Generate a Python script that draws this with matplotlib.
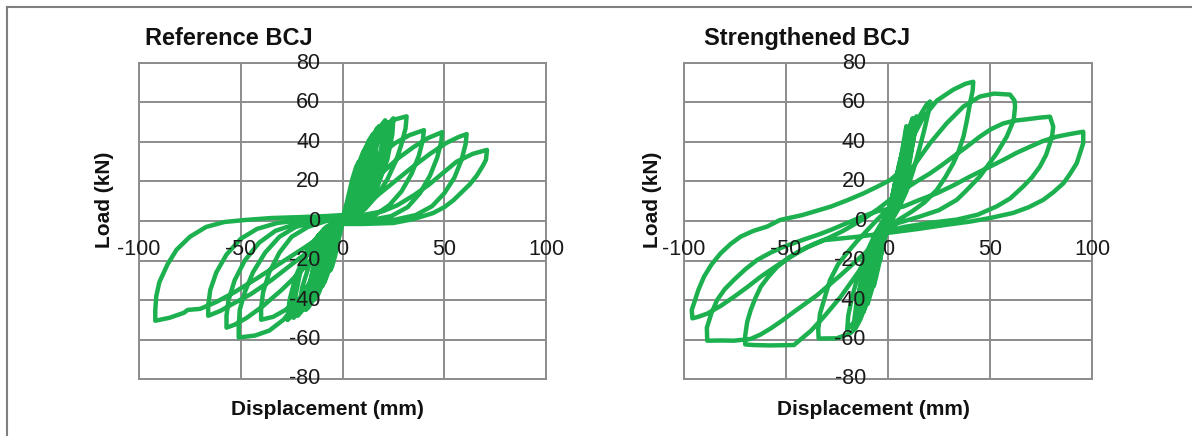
import numpy as np
import matplotlib.pyplot as plt
from matplotlib.lines import Line2D

plt.rcParams['font.family'] = ['Liberation Sans', 'DejaVu Sans']

x_ticks = [-100, -50, 0, 50, 100]
y_ticks = [-80, -60, -40, -20, 0, 20, 40, 60, 80]
titles = ['Reference BCJ', 'Strengthened BCJ']

# (displacement mm, load kN) traces, one list per group of cycles
# reference joint - small elastic cycles
ref_c1 = [(0, 0), (2.4, 10.5), (4.8, 21), (6.8, 27.6), (8, 30),
          (7.2, 21), (5.6, 12), (3.6, 4.5), (1.6, 0.9), (0, -1),
          (-1.8, -8.8), (-3.6, -17.5), (-5.1, -23), (-6, -25),
          (-5.4, -17.5), (-4.2, -10), (-2.7, -3.8), (-1.2, -0.8), (0, 1)]
ref_c2 = [(3, 8), (6, 18), (9, 30), (11, 36),
          (10.5, 29), (9, 20), (6.5, 10), (3.5, 3), (0, -1),
          (-2.5, -7), (-5, -17), (-7.5, -26), (-9, -31),
          (-8.5, -24), (-7, -15), (-4.5, -6), (-2, -1), (0, 1.5)]
ref_c3 = [(3.6, 13), (7.2, 27), (10.2, 35), (12, 38),
          (10.8, 27), (8.4, 15), (5.4, 6), (2.4, 1), (0, -1),
          (-3, -11.5), (-6, -23), (-8.5, -30), (-10, -33),
          (-9, -23), (-7, -13), (-4.5, -5), (-2, -1), (0, 1.5)]
ref_c4 = [(4.5, 15), (9, 31), (12.8, 40.5), (15, 44),
          (13.5, 31), (10.5, 18), (6.8, 7), (3, 1.3), (0, -1),
          (-4.2, -14), (-8.4, -28), (-11.9, -37), (-14, -40),
          (-12.6, -28), (-9.8, -16), (-6.3, -6), (-2.8, -1.2), (0, 1.5)]
ref_c5 = [(4, 9), (8, 20), (12, 33), (15, 42), (17, 47),
          (16.5, 39), (14.5, 27), (11, 14), (6, 4), (0, -1),
          (-4, -9), (-8, -21), (-12, -33), (-15, -40), (-17, -44),
          (-16.5, -36), (-14.5, -24), (-10.5, -11), (-5, -2), (0, 1.5)]
ref_c6 = [(5.4, 17), (10.8, 34), (15.3, 44), (18, 48),
          (16.2, 34), (12.6, 19), (8.1, 7), (3.6, 1.4), (0, -1),
          (-5.4, -16), (-10.8, -31.5), (-15.3, -41.5), (-18, -45),
          (-16.2, -31.5), (-12.6, -18), (-8.1, -6.8), (-3.6, -1.4), (0, 1.5)]
ref_c7 = [(6.3, 18), (12.6, 36), (17.9, 47), (21, 51),
          (18.9, 36), (14.7, 20), (9.5, 7.7), (4.2, 1.5), (0, -1),
          (-6.6, -17), (-13.2, -33.6), (-18.7, -44), (-22, -48),
          (-19.8, -33.6), (-15.4, -19), (-9.9, -7.2), (-4.4, -1.4), (0, 1.5)]
ref_c8 = [(5, 8), (10, 20), (15, 34), (19, 44), (22, 50),
          (21.5, 42), (19.5, 30), (15.5, 16), (9, 5), (0, -1),
          (-5, -8), (-10, -20), (-16, -34), (-21, -44), (-24, -49),
          (-23.5, -40), (-21, -27), (-16, -13), (-8, -3), (0, 1.5)]
ref_c9 = [(7.2, 17.5), (14.4, 35), (20.4, 46), (24, 50),
          (21.6, 35), (16.8, 20), (10.8, 7.5), (4.8, 1.5), (0, -1),
          (-8, -17.5), (-16, -35), (-23, -46), (-27, -50),
          (-24, -35), (-19, -20), (-12, -7.5), (-5.4, -1.5), (0, 1.5)]
ref_c10 = [(4, 12), (9, 24), (14, 35), (19, 45), (25, 52),
           (24.5, 44), (22, 31), (17, 17), (10, 6), (0, -1),
           (-4, -10), (-10, -24), (-16, -36), (-22, -45), (-27, -50),
           (-26, -40), (-23, -28), (-17, -14), (-9, -4), (0, 1.5)]

# reference joint - large cycles
ref_c11 = [(4, 12), (9, 27), (14, 39), (20, 47), (26, 51.5), (31.5, 53),
           (31, 47), (29, 39), (26.5, 31), (22, 21), (17, 13), (11, 6), (5, 1.5), (0, -1),
           (-4, -9), (-9, -19), (-15, -30), (-21, -39), (-28, -45), (-34, -48.5), (-40, -50),
           (-40, -44), (-39, -36), (-36, -26), (-31, -16), (-25, -8), (-17, -3), (-8, 0), (0, 1.5)]
ref_c12 = [(4, 10), (8, 19), (13, 27), (19, 34), (26, 39.5), (33, 43.5), (40, 46),
           (39.5, 41), (37.5, 33), (34, 24), (29, 15), (23, 8), (16, 3), (8, 0.5), (0, -1),
           (-5, -10), (-10, -20), (-16, -31), (-22, -41), (-29, -50), (-36, -55.5), (-43, -58), (-51, -59),
           (-51, -53), (-50.5, -45), (-48, -36), (-44, -26), (-38, -16), (-31, -8), (-23, -3),
           (-14, -0.5), (-5, 1), (0, 1.5)]
ref_c13 = [(6, 8), (12, 16), (19, 24), (27, 31.5), (35, 37.5), (42, 42), (49, 45),
           (48.5, 40), (46.5, 32), (43, 23), (38, 14), (32, 7), (24, 2.5), (14, 0.5), (0, -1),
           (-6, -8), (-13, -17), (-21, -26), (-30, -35), (-39, -43), (-47, -49), (-53, -52.5), (-57, -54),
           (-57, -48), (-56, -40), (-53, -30), (-48, -20), (-41, -11), (-33, -5), (-23, -1.5),
           (-12, 0.5), (0, 1.5)]
ref_c14 = [(8, 6), (16, 12), (25, 19.5), (34, 27), (43, 34), (51, 39.5), (57, 42.5), (61, 44),
           (60.5, 39), (58.5, 31), (55, 22), (50, 14), (44, 7.5), (36, 3), (25, 0.5), (12, -0.5), (0, -1),
           (-7, -7), (-15, -14), (-25, -22), (-35, -30), (-45, -37), (-54, -42), (-60, -45.5), (-66, -48),
           (-66, -43), (-65, -35), (-62, -26), (-57, -17), (-50, -9), (-42, -4), (-32, -1),
           (-20, 0.5), (-8, 1.5), (0, 2)]
ref_c15 = [(10, 3), (20, 5), (27, 8), (35, 13), (42, 18), (49, 24), (56, 30), (64, 34), (71, 36),
           (70.5, 31), (69, 28), (66, 23), (62.5, 18.5), (58, 14), (54.5, 10.5), (50, 7), (44.5, 4),
           (35, 1), (25, -1), (10, -1.5), (0, -1.5),
           (-8, -6), (-18, -13), (-30, -21), (-42, -29), (-53, -36), (-62, -41), (-70, -44.5),
           (-76, -45), (-78, -46.5), (-85, -49), (-92, -50.5),
           (-92, -45), (-91.5, -38), (-90, -31), (-86, -22), (-81.5, -14.5), (-75, -8), (-67, -3),
           (-58, -0.5), (-48, 0.5), (-35, 1.5), (-20, 2), (-8, 2.5), (0, 3)]

# strengthened joint - small cycles
str_c1 = [(0, 0), (1.5, 9), (3, 17), (4, 22), (3.5, 15), (2.5, 8), (1, 1), (0, -2),
          (-1.5, -8), (-3, -15), (-4, -20), (-3.5, -13), (-2.5, -7), (-1, -1), (0, 2)]
str_c2 = [(2, 11), (4, 22), (6, 31), (7, 35), (6.2, 27), (4.8, 17), (3, 8), (1.2, 1.5), (0, -2),
          (-2, -10), (-4, -20), (-6, -29), (-7, -33), (-6.2, -24), (-4.8, -15), (-3, -7), (-1.2, -1), (0, 2)]
str_c3 = [(2.5, 13), (5, 26), (8, 39), (10, 46), (9, 36), (7, 23), (4.5, 11), (2, 3), (0, -2),
          (-2.5, -11), (-5, -23), (-8, -35), (-10, -42), (-9, -31), (-7, -20), (-4.5, -10), (-2, -2), (0, 3)]
str_c4 = [(2, 8), (4.5, 20), (7, 36), (9, 48), (8.5, 38), (7, 25), (4.5, 12), (2, 3), (0, -3),
          (-3, -12), (-6, -25), (-9.5, -38), (-12, -46), (-11.5, -35), (-9.5, -22), (-6, -10), (-2.5, -2), (0, 4)]
str_c5 = [(3, 16), (6, 30), (9, 43), (12, 52), (11, 42), (9, 29), (6, 16), (3, 5), (0, -3),
          (-3, -13), (-7, -28), (-11, -42), (-14, -50), (-12.5, -38), (-10, -25), (-6.5, -13), (-3, -4), (0, 3)]
str_c6 = [(3, 12), (6.5, 27), (10, 42), (13, 52), (12.5, 42), (10.5, 29), (7.5, 16), (3.5, 5), (0, -3),
          (-4, -14), (-8, -29), (-12.5, -43), (-16, -52), (-15, -40), (-12.5, -27), (-8.5, -14), (-4, -4), (0, 4)]
str_c7 = [(3.5, 18), (7, 32), (11, 45), (14, 53), (13, 44), (10.5, 31), (7, 17), (3.5, 6), (0, -3),
          (-4, -15), (-8, -30), (-13, -45), (-17, -54), (-15.5, -42), (-12.5, -29), (-8.5, -16), (-4, -5), (0, 4)]

# strengthened joint - large cycles
str_c8 = [(4, 19), (8, 33), (12, 45), (16, 54), (19, 59), (20.6, 60.5),
          (20, 56), (18, 47), (15.5, 37), (12.5, 26), (9, 15), (5, 6), (0, -3),
          (-4, -16), (-8, -30), (-12, -42), (-16, -50.5), (-20, -55),
          (-19.5, -48), (-17.5, -38), (-14.5, -27), (-10.5, -16), (-6, -6), (-2, 1), (0, 5)]
str_c9 = [(4, 18), (8, 31), (12, 42), (17, 52), (24, 61), (32, 66.5), (38, 69.5), (41.8, 70.5),
          (41.5, 66), (40.2, 59.5), (38.5, 50), (37, 42.7), (34.5, 35), (32, 29.2), (28, 22),
          (23.9, 15.7), (18, 9.5), (12, 5), (5, 0.5), (0, -3),
          (-4, -16), (-8, -31), (-11, -43), (-13.7, -50.1), (-16, -54.5), (-18.6, -56.9),
          (-25.1, -59.4), (-34, -59.5),
          (-34.2, -55), (-33.3, -46.8), (-30.5, -37), (-28.4, -29.9), (-24.5, -22), (-20.2, -16.3),
          (-15, -10), (-10, -4.5), (-5, 1), (0, 6), (5, 12), (8, 19)]
str_c10 = [(12.4, 27.6), (16.5, 33.5), (20.6, 39.4), (28.8, 49.5), (36.9, 57.9), (45, 63),
           (52, 64.5), (59.8, 64), (62, 61),
           (62.3, 57.9), (61.6, 51), (58.2, 42.7), (53.3, 34.3), (45, 22.5), (38, 15), (33.7, 10.7),
           (25, 5.5), (15.7, 2.3), (5, -1), (0, -4),
           (-7, -15), (-15, -26.6), (-23.2, -38.4), (-31.4, -48.5), (-37.9, -55.7), (-46.1, -62.8),
           (-58, -63), (-66, -62.8), (-70, -62.5),
           (-70, -58), (-69, -51), (-67.3, -45.1), (-65, -39), (-62.4, -33.3), (-58.5, -28),
           (-54.3, -23.2), (-48.5, -18.5), (-42.8, -14.8), (-36, -11.5), (-29.8, -8.9), (-22, -5),
           (-12, 1), (-5, 6), (0, 10), (7.5, 15.7)]
str_c11 = [(14, 20), (20.6, 24.1), (26, 28), (32, 32.6), (38.5, 37.5), (45, 42.7), (50.5, 46.5),
           (56.5, 49.4), (62, 50.8), (68, 51.5), (74, 52.3), (79.4, 52.8),
           (81, 47.8), (80.5, 43.5), (79.4, 39.4), (77.5, 33.5), (74.5, 27.6), (70.5, 22), (66.3, 17.5),
           (60, 11.5), (53.3, 7.4), (44, 3.2), (33.7, 0.7), (20, -1), (8, -3), (0, -5),
           (-10, -15), (-23.2, -27.4), (-34.7, -37.5), (-46.1, -46), (-52, -50.5), (-57.5, -54.4),
           (-62.5, -57.5), (-67.3, -59.7), (-75.5, -60.6), (-82, -60.5), (-88.6, -60.6),
           (-88.8, -54), (-86.5, -46.5), (-83.7, -39.9), (-80, -34.5), (-75.5, -29.8), (-70, -24.5),
           (-64.1, -19.7), (-57.5, -16), (-51, -13), (-43, -10), (-34.7, -7.1), (-28, -4.5),
           (-20, -1), (-12, 2.5), (-5, 5), (0, 6), (7.5, 7.3)]
str_c12 = [(15, 10.5), (23.9, 14), (32, 18), (40.2, 22.5), (48, 26.5), (56.5, 30.9), (63, 34.5),
           (69.6, 37.6), (76, 40.5), (82.7, 42.7), (89, 44), (95.7, 45.2),
           (95.7, 39.4), (94, 34), (92.5, 29.2), (89, 23.5), (86, 19.1), (81, 14.5), (76.1, 10.7),
           (69, 7), (61.4, 4.1), (50, 1.5), (40.2, -0.3), (28, -2), (15, -4), (0, -6),
           (-15, -8), (-31.4, -9.7), (-40, -13.5), (-47.7, -18.1), (-55, -23), (-62.4, -28.2),
           (-69, -33.5), (-75.5, -38.4), (-82, -43), (-88.6, -46.9), (-93, -48.5), (-95.9, -49.3),
           (-96.2, -45), (-95.1, -41.7), (-93, -35), (-90.2, -28.2), (-86.5, -22), (-82, -16.3),
           (-77, -11.5), (-72.2, -7.9), (-66, -5), (-59.2, -2.8), (-53, 0.5), (-42, 3), (-28, 7.3),
           (-20, 10.5), (-12, 14), (-5, 17.5), (1, 20.7), (6, 25)]

ref_cycles = [ref_c1, ref_c2, ref_c3, ref_c4, ref_c5, ref_c6, ref_c7, ref_c8,
              ref_c9, ref_c10, ref_c11, ref_c12, ref_c13, ref_c14, ref_c15]
str_cycles = [str_c1, str_c2, str_c3, str_c4, str_c5, str_c6, str_c7,
              str_c8, str_c9, str_c10, str_c11, str_c12]

W, H = 1192, 436
green = '#1db04f'
grid_c = '#8c8c8c'

fig = plt.figure(figsize=(W / 100, H / 100), dpi=100)

# panel boxes in pixels: left, top, right, bottom
boxes = [(139, 63, 546, 379), (684, 63, 1092, 379)]
title_x = [145, 704]
xlabel_x = [327, 873]
ylabel_x = [105, 653]

for cycles, box, title, tx, lx, yx in zip([ref_cycles, str_cycles], boxes, titles,
                                          title_x, xlabel_x, ylabel_x):
    l, t, r, b = box
    ax = fig.add_axes([l / W, 1 - b / H, (r - l) / W, (b - t) / H])
    pts = np.vstack([np.array(c, dtype=float) for c in cycles])
    ax.plot(pts[:, 0], pts[:, 1], color=green, lw=3.2,
            solid_joinstyle='round', solid_capstyle='round', zorder=3)

    ax.set_xlim(-100, 100)
    ax.set_ylim(-80, 80)
    ax.set_xticks(x_ticks)
    ax.set_yticks(y_ticks)
    ax.grid(True, color=grid_c, lw=1.4)
    ax.set_axisbelow(True)
    ax.tick_params(length=0, labelbottom=False, labelleft=False)
    for s in ax.spines.values():
        s.set_color(grid_c)
        s.set_linewidth(1.4)

    # tick labels sit on the zero axes, on top of the curve
    for v in y_ticks:
        ax.annotate(str(v), (0, v), xytext=(-16, 0), textcoords='offset points',
                    ha='right', va='center', fontsize=15.5, color='#1a1a1a',
                    zorder=6, annotation_clip=False)
    for v in x_ticks:
        ax.annotate(str(v), (v, 0), xytext=(0, -20.5), textcoords='offset points',
                    ha='center', va='center', fontsize=15.5, color='#1a1a1a',
                    zorder=6, annotation_clip=False)

    fig.text(tx / W, 1 - 45 / H, title, fontsize=17, fontweight='bold',
             ha='left', va='baseline', color='#111111')
    fig.text(lx / W, 1 - 415 / H, 'Displacement (mm)', fontsize=15,
             fontweight='bold', ha='center', va='baseline', color='#111111')
    fig.text(yx / W, 1 - 200 / H, 'Load (kN)', fontsize=15, fontweight='bold',
             rotation=90, ha='center', va='center', color='#111111')

# open frame around the figure (top and left edges only)
fig.add_artist(Line2D([7 / W, 1], [1 - 7.5 / H, 1 - 7.5 / H], color='#7f7f7f', lw=1.5))
fig.add_artist(Line2D([7 / W, 7 / W], [0, 1 - 7.5 / H], color='#7f7f7f', lw=1.5))

fig.savefig('out.png', dpi=100)
